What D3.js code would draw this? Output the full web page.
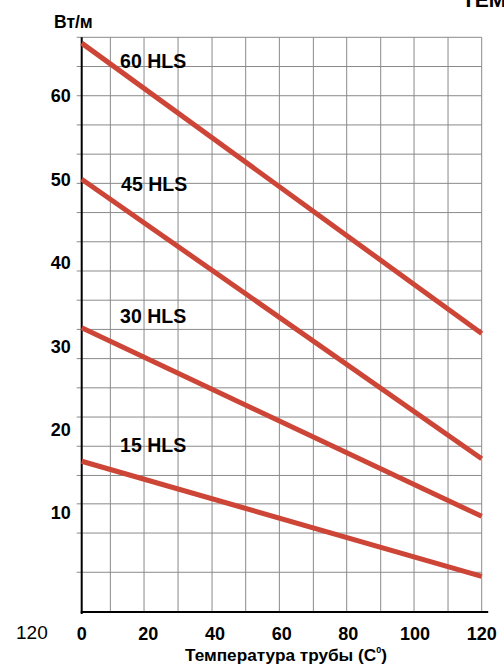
<!DOCTYPE html>
<html><head><meta charset="utf-8">
<script src="https://cdn.jsdelivr.net/npm/d3@7"></script>
<style>html,body{margin:0;padding:0;background:#fff;overflow:hidden}</style>
</head><body><svg id="c" width="504" height="666"></svg>
<script>
// ---- data ----
const temps = [0, 120];
const seriesNames = ["60 HLS", "45 HLS", "30 HLS", "15 HLS"];
const v60 = [66.3, 31.5];
const v45 = [50.0, 16.5];
const v30 = [32.2, 9.6];
const v15 = [16.2, 2.4];
const yTicks = [10, 20, 30, 40, 50, 60];
const xTicks = [0, 20, 40, 60, 80, 100, 120];
const xGrid = [8.6, 18.7, 28.9, 39.1, 49.2, 59.3, 69.5, 79.5, 89.7, 99.7, 109.9, 120];
const yGrid = [67, 63.5, 60, 56.5, 53, 49.5, 46, 42.5, 39, 35.5, 32, 28.5, 25, 21.5, 18, 14.5, 11.1, 7.6, 2.9];
const yUnit = "Вт/м";
const xTitle = "Температура трубы (C";
const xTitleSup = "0";
const topText = "ТЕМ";
const strayText = "120";

// ---- layout ----
const FONT = "'Liberation Sans', Arial, sans-serif";
const RED = "#cc4536";
const x = d3.scaleLinear().domain([0, 120]).range([81.7, 481.7]);
const y = d3.scaleLinear().domain([-1.86, 67]).range([612, 37.3]);
const labelAnchors = [[11.5, 63.3], [11.8, 48.6], [11.5, 32.8], [11.5, 17.3]];

const svg = d3.select("#c");
const values = [v60, v45, v30, v15];

// grid
const g = svg.append("g");
g.selectAll(".vg").data(xGrid).enter().append("line")
  .attr("x1", d => x(d)).attr("x2", d => x(d))
  .attr("y1", y(67)).attr("y2", y(-1.86))
  .attr("stroke", "#8a8a8a").attr("stroke-width", 1);
g.selectAll(".hg").data(yGrid).enter().append("line")
  .attr("x1", x(0) - 5).attr("x2", x(120))
  .attr("y1", d => y(d)).attr("y2", d => y(d))
  .attr("stroke", "#8a8a8a").attr("stroke-width", 1);

// axes
svg.append("line").attr("x1", x(0)).attr("x2", x(0)).attr("y1", y(67)).attr("y2", y(-1.86) + 2)
  .attr("stroke", "#000").attr("stroke-width", 2);
svg.append("line").attr("x1", x(0) - 1).attr("x2", x(120) + 6.5).attr("y1", y(-1.86)).attr("y2", y(-1.86))
  .attr("stroke", "#000").attr("stroke-width", 2);

// lines
const lineGen = d3.line().x((d, i) => x(temps[i])).y(d => y(d));
svg.selectAll(".ser").data(values).enter().append("path")
  .attr("d", d => lineGen(d))
  .attr("fill", "none").attr("stroke", RED).attr("stroke-width", 5);

// series labels
svg.selectAll(".sl").data(seriesNames).enter().append("text")
  .attr("x", (d, i) => x(labelAnchors[i][0]))
  .attr("y", (d, i) => y(labelAnchors[i][1]))
  .attr("font-family", FONT).attr("font-weight", "bold").attr("font-size", 19.5)
  .attr("fill", "#000").text(d => d);

// y tick labels
svg.selectAll(".yt").data(yTicks).enter().append("text")
  .attr("x", 70.7).attr("y", d => y(d)).attr("dy", "0.36em")
  .attr("text-anchor", "end")
  .attr("font-family", FONT).attr("font-weight", "bold").attr("font-size", 18)
  .text(d => d);

// x tick labels
svg.selectAll(".xt").data(xTicks).enter().append("text")
  .attr("x", d => x(d)).attr("y", 640)
  .attr("text-anchor", "middle")
  .attr("font-family", FONT).attr("font-weight", "bold").attr("font-size", 18)
  .text(d => d);

// y unit
svg.append("text").attr("x", 54).attr("y", 27.5)
  .attr("font-family", FONT).attr("font-weight", "bold").attr("font-size", 17.5)
  .text(yUnit);

// x title
const t = svg.append("text").attr("x", 286).attr("y", 661).attr("text-anchor", "middle")
  .attr("font-family", FONT).attr("font-weight", "bold").attr("font-size", 17.2);
t.append("tspan").text(xTitle);
t.append("tspan").attr("font-size", 9).attr("dy", -8).text(xTitleSup);
t.append("tspan").attr("dy", 8).text(")");

// stray texts
svg.append("text").attr("x", 462).attr("y", 6.5)
  .attr("font-family", FONT).attr("font-weight", "bold").attr("font-size", 21).text(topText);
svg.append("text").attr("x", 16).attr("y", 639)
  .attr("font-family", FONT).attr("font-size", 19).text(strayText);
</script>
</body></html>
